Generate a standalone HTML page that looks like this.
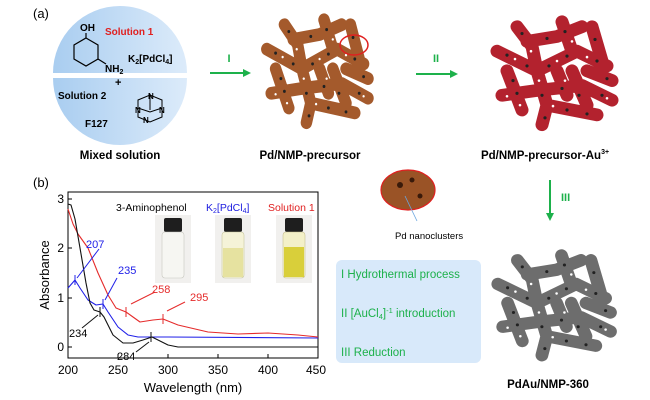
<!DOCTYPE html>
<html><head><meta charset="utf-8"><style>
body{margin:0;background:#fff;width:650px;height:400px;overflow:hidden}
svg{display:block;font-family:"Liberation Sans",Arial,sans-serif}
</style></head><body>
<svg width="650" height="400" viewBox="0 0 650 400" xmlns="http://www.w3.org/2000/svg">
<defs>
<linearGradient id="bl" x1="0" y1="0" x2="1" y2="0"><stop offset="0" stop-color="#a9cdf0"/><stop offset="1" stop-color="#dcebfa"/></linearGradient>
<g id="tree" fill="none" stroke-linecap="round" stroke-linejoin="round">
<path stroke="currentColor" stroke-width="13" d="M10,40 L50,60 L90,40 L120,55 M30,15 L45,35 L50,60 M75,10 L85,40 M105,15 L115,50 M50,60 L60,95 L55,115 M15,85 L50,80 L95,75 L125,90 M60,95 L110,105 M85,60 L100,95 M40,30 L70,25 L95,15 M20,60 L35,100 M70,60 L80,85 M100,60 L125,70"/>
<g fill="#222" stroke="none">
<circle cx="20" cy="44" r="1.6"/><circle cx="40" cy="55" r="1.6"/><circle cx="62" cy="55" r="1.6"/><circle cx="80" cy="45" r="1.6"/><circle cx="110" cy="50" r="1.6"/><circle cx="35" cy="22" r="1.6"/><circle cx="78" cy="20" r="1.6"/><circle cx="108" cy="28" r="1.6"/><circle cx="55" cy="85" r="1.6"/><circle cx="30" cy="83" r="1.6"/><circle cx="75" cy="78" r="1.6"/><circle cx="115" cy="85" r="1.6"/><circle cx="80" cy="100" r="1.6"/><circle cx="100" cy="104" r="1.6"/><circle cx="58" cy="108" r="1.6"/><circle cx="92" cy="85" r="1.6"/><circle cx="60" cy="27" r="1.6"/><circle cx="26" cy="70" r="1.6"/><circle cx="120" cy="68" r="1.6"/>
</g>
<g fill="#fff" stroke="none">
<circle cx="28" cy="48" r="1.3"/><circle cx="70" cy="50" r="1.3"/><circle cx="100" cy="46" r="1.3"/><circle cx="44" cy="40" r="1.3"/><circle cx="85" cy="30" r="1.3"/><circle cx="20" cy="86" r="1.3"/><circle cx="66" cy="96" r="1.3"/><circle cx="120" cy="88" r="1.3"/><circle cx="52" cy="70" r="1.3"/><circle cx="33" cy="95" r="1.3"/><circle cx="78" cy="70" r="1.3"/>
</g>
</g>
</defs>

<!-- (a) -->
<text x="33" y="18" font-size="13">(a)</text>
<path d="M53,73 A67,67 0 0 1 187,73 Z" fill="url(#bl)"/>
<path d="M53,78 A67,67 0 0 0 187,78 Z" fill="url(#bl)"/>
<text x="105" y="35" font-size="10" font-weight="bold" fill="#e02020">Solution 1</text>
<text x="128" y="62" font-size="10" font-weight="bold">K<tspan font-size="7" dy="2">2</tspan><tspan dy="-2">[PdCl</tspan><tspan font-size="7" dy="2">4</tspan><tspan dy="-2">]</tspan></text>
<text x="80" y="31" font-size="10" font-weight="bold">OH</text>
<polygon points="86,38 98,45 98,59 86,66 74,59 74,45" fill="none" stroke="#000" stroke-width="1.2"/>
<line x1="86" y1="38" x2="86" y2="33" stroke="#000" stroke-width="1.2"/>
<line x1="98" y1="59" x2="106" y2="64" stroke="#000" stroke-width="1.2"/>
<text x="105" y="72" font-size="10" font-weight="bold">NH<tspan font-size="7" dy="2">2</tspan></text>
<text x="115" y="86" font-size="11" font-weight="bold">+</text>
<text x="58" y="99" font-size="10" font-weight="bold">Solution 2</text>
<text x="85" y="127" font-size="10" font-weight="bold">F127</text>
<g stroke="#000" stroke-width="1" fill="none"><path d="M138,100 L150,95 L162,100 L162,117 L150,122 L138,117 Z M150,95 L150,110 M138,108 L150,112 L162,108"/></g>
<text x="148" y="99" font-size="8" font-weight="bold">N</text>
<text x="135" y="113" font-size="8" font-weight="bold">N</text>
<text x="159" y="113" font-size="8" font-weight="bold">N</text>
<text x="143" y="123" font-size="8" font-weight="bold">N</text>
<text x="120" y="159" font-size="11.5" font-weight="bold" text-anchor="middle">Mixed solution</text>

<g fill="#1db14b" stroke="#1db14b">
<line x1="210" y1="73" x2="245" y2="73" stroke-width="2"/><polygon points="251,73 243,69 243,77" stroke="none"/>
<line x1="416" y1="74" x2="452" y2="74" stroke-width="2"/><polygon points="458,74 450,70 450,78" stroke="none"/>
<line x1="550" y1="180" x2="550" y2="215" stroke-width="2"/><polygon points="550,221 546,213 554,213" stroke="none"/>
</g>
<text x="229" y="62" font-size="11" font-weight="bold" fill="#1db14b" text-anchor="middle">I</text>
<text x="436" y="62" font-size="11" font-weight="bold" fill="#1db14b" text-anchor="middle">II</text>
<text x="561" y="201" font-size="11" font-weight="bold" fill="#1db14b">III</text>

<use href="#tree" color="#a45a2c" transform="translate(258,10) scale(0.88,0.98)"/>
<ellipse cx="354" cy="45" rx="14" ry="10" fill="none" stroke="#e02020" stroke-width="1.5"/>
<text x="310" y="159" font-size="11.5" font-weight="bold" text-anchor="middle">Pd/NMP-precursor</text>

<use href="#tree" color="#b3222e" transform="translate(487,12) scale(1,0.98)"/>
<text x="545" y="159" font-size="11.5" font-weight="bold" text-anchor="middle">Pd/NMP-precursor-Au<tspan font-size="7" dy="-5">3+</tspan></text>

<ellipse cx="408" cy="190" rx="27" ry="20" fill="#9a5326" stroke="#e02020" stroke-width="1.2"/>
<circle cx="400" cy="185" r="3" fill="#3a1a0a"/><circle cx="412" cy="180" r="2.5" fill="#3a1a0a"/><circle cx="420" cy="196" r="2.5" fill="#3a1a0a"/>
<line x1="405" y1="196" x2="417" y2="221" stroke="#6aa6e0" stroke-width="0.8"/>
<text x="395" y="239" font-size="9.5">Pd nanoclusters</text>

<rect x="336" y="260" width="145" height="103" rx="6" fill="#d8e9fa"/>
<g font-size="11.5" fill="#1db14b">
<text x="341" y="278">I Hydrothermal process</text>
<text x="341" y="317">II [AuCl<tspan font-size="7.5" dy="2">4</tspan><tspan dy="-2">]</tspan><tspan font-size="7.5" dy="-4">-1</tspan><tspan dy="4"> introduction</tspan></text>
<text x="341" y="356">III Reduction</text>
</g>
<use href="#tree" color="#6d6d6d" transform="translate(488,246) scale(0.98,0.95)"/>
<text x="548" y="388" font-size="11.5" font-weight="bold" text-anchor="middle">PdAu/NMP-360</text>

<!-- (b) -->
<text x="33" y="187" font-size="13">(b)</text>
<rect x="68" y="192" width="250" height="166" fill="none" stroke="#000" stroke-width="1"/>
<g stroke="#000" stroke-width="1">
<line x1="68" y1="199" x2="72" y2="199"/><line x1="68" y1="248" x2="72" y2="248"/><line x1="68" y1="298" x2="72" y2="298"/><line x1="68" y1="347" x2="72" y2="347"/>
<line x1="118" y1="358" x2="118" y2="354"/><line x1="168" y1="358" x2="168" y2="354"/><line x1="218" y1="358" x2="218" y2="354"/><line x1="268" y1="358" x2="268" y2="354"/>
</g>
<g font-size="12" text-anchor="end"><text x="64" y="203">3</text><text x="64" y="252">2</text><text x="64" y="302">1</text><text x="64" y="351">0</text></g>
<g font-size="12" text-anchor="middle"><text x="68" y="374">200</text><text x="118" y="374">250</text><text x="168" y="374">300</text><text x="218" y="374">350</text><text x="268" y="374">400</text><text x="316" y="374">450</text></g>
<text x="193" y="392" font-size="13" text-anchor="middle">Wavelength (nm)</text>
<text transform="translate(49,275) rotate(-90)" font-size="13" text-anchor="middle">Absorbance</text>

<g>
<rect x="155" y="215" width="36" height="68" fill="#f1f0ee"/><rect x="215" y="215" width="36" height="68" fill="#f1f0ee"/><rect x="276" y="215" width="36" height="68" fill="#f1f0ee"/>
<rect x="164" y="218" width="18" height="14" rx="2" fill="#1e1e1e"/><rect x="224" y="218" width="18" height="14" rx="2" fill="#1e1e1e"/><rect x="285" y="218" width="18" height="14" rx="2" fill="#1e1e1e"/>
<rect x="162" y="232" width="22" height="46" rx="3" fill="#f6f6f2" stroke="#c8c8c0" stroke-width="0.6"/>
<rect x="222" y="232" width="22" height="46" rx="3" fill="#f5f3d8" stroke="#c8c8a0" stroke-width="0.6"/><rect x="223" y="248" width="20" height="29" fill="#e6e2a0"/>
<rect x="283" y="232" width="22" height="46" rx="3" fill="#f3f0c8" stroke="#c8c090" stroke-width="0.6"/><rect x="284" y="247" width="20" height="30" fill="#d9cf3a"/>
</g>
<text x="116" y="211" font-size="10.5">3-Aminophenol</text>
<text x="206" y="211" font-size="10.5" fill="#2020e0">K<tspan font-size="7" dy="2">2</tspan><tspan dy="-2">[PdCl</tspan><tspan font-size="7" dy="2">4</tspan><tspan dy="-2">]</tspan></text>
<text x="268" y="211" font-size="10.5" fill="#e02020">Solution 1</text>

<g fill="none" stroke-width="1.1" stroke-linejoin="round">
<polyline stroke="#e52b2b" points="68,209 73,224 78,234 88,248 98,273 108,295 116,308 126,312 133,317 140,322 153,320 163,319 178,325 208,332 238,334 268,333 298,335 318,337"/>
<polyline stroke="#2020e8" points="68,288 75,280 80,288 88,300 96,305 103,304 108,312 118,327 128,335 138,337 168,337 318,338"/>
<polyline stroke="#111" points="68,204 71,205 75,219 80,248 86,283 90,303 94,310 100,312 104,317 113,335 123,343 133,343 143,340 152,337 160,341 168,345 178,347 318,347"/>
</g>
<g stroke-width="1">
<line x1="75" y1="275" x2="75" y2="285" stroke="#2020e8"/><line x1="103" y1="299" x2="103" y2="309" stroke="#2020e8"/>
<line x1="126" y1="307" x2="126" y2="317" stroke="#e52b2b"/><line x1="163" y1="314" x2="163" y2="324" stroke="#e52b2b"/>
<line x1="100" y1="307" x2="100" y2="317" stroke="#111"/><line x1="151" y1="332" x2="151" y2="342" stroke="#111"/>
<line x1="99" y1="249" x2="77" y2="278" stroke="#2020e8"/><line x1="117" y1="278" x2="105" y2="300" stroke="#2020e8"/>
<line x1="155" y1="292" x2="131" y2="304" stroke="#e52b2b"/><line x1="185" y1="302" x2="167" y2="311" stroke="#e52b2b"/>
<line x1="82" y1="328" x2="98" y2="315" stroke="#111"/><line x1="136" y1="352" x2="149" y2="342" stroke="#111"/>
</g>
<text x="86" y="248" font-size="11" fill="#2020e8">207</text>
<text x="118" y="274" font-size="11" fill="#2020e8">235</text>
<text x="152" y="293" font-size="11" fill="#e52b2b">258</text>
<text x="190" y="301" font-size="11" fill="#e52b2b">295</text>
<text x="69" y="337" font-size="11">234</text>
<text x="117" y="360" font-size="11">284</text>
</svg>
</body></html>
